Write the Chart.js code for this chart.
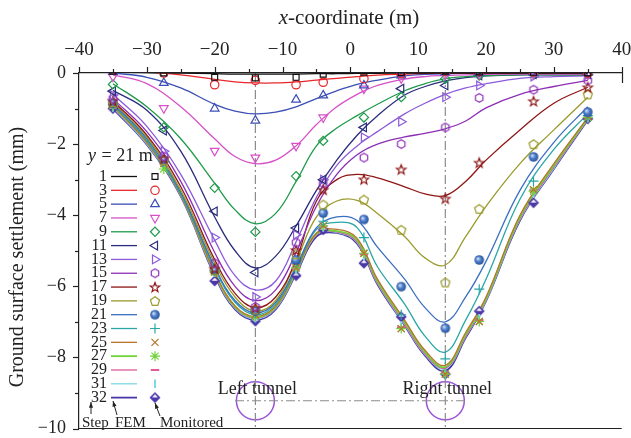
<!DOCTYPE html>
<html>
<head>
<meta charset="utf-8">
<script src="https://cdn.jsdelivr.net/npm/chart.js@4.4.1/dist/chart.umd.min.js"></script>
<style>
html, body { margin: 0; padding: 0; background: #fff; overflow: hidden; }
</style>
</head>
<body>
<canvas id="chart" width="631" height="438"></canvas>
<script>
// excavation steps shown in the legend
const steps = ['1', '3', '5', '7', '9', '11', '13', '15', '17', '19', '21', '23', '25', '27', '29', '31', '32'];

// FEM curves, x positions (m) and settlement (mm) per step
const femX = [-35, -30, -25, -20, -17, -14, -11, -8, -5, -2, 1, 4, 8, 11, 14, 17, 20, 25, 30, 35];
const fem1  = [0.02, 0.01, 0, -0.02, -0.03, -0.03, -0.03, -0.03, -0.02, -0.02, -0.01, -0.01, 0, 0, 0, 0, 0, 0, 0, 0];
const fem3  = [0.05, 0.03, -0.05, -0.18, -0.25, -0.28, -0.28, -0.25, -0.2, -0.15, -0.1, -0.06, -0.03, -0.01, 0, 0, 0, 0, 0, 0];
const fem5  = [0, -0.12, -0.42, -0.88, -1.07, -1.15, -1.1, -0.95, -0.72, -0.5, -0.32, -0.2, -0.08, -0.04, -0.02, -0.01, 0, 0, 0, 0];
const fem7  = [-0.05, -0.3, -0.95, -1.85, -2.35, -2.55, -2.45, -2.05, -1.45, -0.95, -0.6, -0.35, -0.17, -0.1, -0.07, -0.05, -0.04, -0.03, -0.03, -0.03];
const fem9  = [-0.3, -0.95, -1.85, -3.1, -3.85, -4.24, -3.95, -3.05, -2.05, -1.55, -1.2, -0.88, -0.5, -0.3, -0.16, -0.1, -0.07, -0.05, -0.05, -0.05];
const fem11 = [-0.49, -1.05, -2.2, -4.05, -5.0, -5.48, -5.15, -4.3, -3.3, -2.45, -1.75, -1.2, -0.62, -0.38, -0.22, -0.13, -0.08, -0.05, -0.05, -0.05];
const fem13 = [-0.6, -1.5, -2.85, -4.7, -5.7, -6.1, -5.85, -4.75, -3.5, -2.6, -2.05, -1.65, -1.15, -0.85, -0.6, -0.42, -0.3, -0.15, -0.1, -0.08];
const fem15 = [-0.72, -1.65, -3.05, -5.05, -6.0, -6.4, -6.1, -5.05, -3.75, -2.85, -2.3, -2.0, -1.8, -1.7, -1.57, -1.35, -0.98, -0.6, -0.38, -0.21];
const fem17 = [-0.78, -1.75, -3.2, -5.25, -6.2, -6.6, -6.3, -5.25, -3.6, -3.0, -2.85, -2.95, -3.2, -3.4, -3.45, -3.05, -2.45, -1.6, -0.85, -0.4];
const fem19 = [-0.82, -1.8, -3.3, -5.35, -6.3, -6.7, -6.4, -5.3, -4.05, -3.6, -3.58, -3.95, -4.6, -5.2, -5.4, -4.6, -3.75, -2.55, -1.6, -0.68];
const fem21 = [-0.85, -1.85, -3.35, -5.45, -6.4, -6.75, -6.45, -5.45, -4.35, -4.05, -4.15, -4.9, -5.8, -6.6, -7.0, -6.3, -5.3, -3.3, -1.95, -0.95];
const fem23 = [-0.88, -1.9, -3.4, -5.5, -6.45, -6.8, -6.5, -5.5, -4.4, -4.2, -4.35, -5.45, -6.5, -7.4, -7.85, -6.95, -5.8, -3.55, -2.15, -1.15];
const fem25 = [-0.9, -1.95, -3.42, -5.6, -6.55, -6.85, -6.55, -5.55, -4.5, -4.4, -4.65, -5.8, -6.95, -7.8, -8.22, -7.3, -6.3, -4.0, -2.55, -1.25];
const fem27 = [-0.92, -1.95, -3.42, -5.62, -6.57, -6.87, -6.57, -5.58, -4.52, -4.45, -4.7, -5.85, -7.0, -7.85, -8.27, -7.35, -6.35, -4.05, -2.6, -1.28];
const fem29 = [-0.95, -1.97, -3.44, -5.65, -6.6, -6.9, -6.6, -5.6, -4.55, -4.47, -4.75, -5.9, -7.05, -7.9, -8.3, -7.4, -6.38, -4.1, -2.65, -1.3];
const fem31 = [-0.97, -2.0, -3.45, -5.67, -6.62, -6.92, -6.62, -5.62, -4.55, -4.48, -4.77, -5.92, -7.08, -7.92, -8.32, -7.42, -6.4, -4.12, -2.68, -1.3];
const fem32 = [-1.0, -2.02, -3.47, -5.7, -6.65, -6.95, -6.65, -5.65, -4.6, -4.5, -4.8, -5.95, -7.1, -7.95, -8.38, -7.45, -6.42, -4.15, -2.7, -1.32];

// monitored points
const monX = [-35, -27.5, -20, -14, -8, -4, 2, 7.5, 14, 19, 27, 35];
const mon1  = [0.05, 0, -0.12, -0.14, -0.12, -0.03, 0.02, 0.01, 0.05, 0.03, 0.02, 0];
const mon3  = [0.08, 0, -0.33, -0.21, -0.33, -0.26, -0.16, -0.02, 0.05, 0.05, 0.03, 0];
const mon5  = [0.03, -0.28, -1.0, -1.34, -0.75, -0.63, -0.35, -0.07, 0.02, 0.02, 0, 0];
const mon7  = [-0.1, -0.99, -2.19, -2.38, -2.05, -1.25, -0.44, -0.15, -0.05, -0.03, -0.02, -0.05];
const mon9  = [-0.32, -1.53, -3.23, -4.47, -2.9, -1.91, -1.25, -0.68, -0.16, -0.07, -0.03, -0.03];
const mon11 = [-0.51, -1.62, -3.89, -5.61, -4.36, -3.0, -1.53, -0.44, -0.35, -0.07, -0.03, -0.03];
const mon13 = [-0.62, -2.2, -4.63, -6.3, -4.55, -3.0, -1.81, -1.37, -0.68, -0.35, -0.1, -0.05];
const mon15 = [-0.72, -2.35, -5.35, -6.58, -4.77, -3.1, -2.38, -2.0, -1.53, -0.7, -0.47, -0.21];
const mon17 = [-0.78, -2.4, -5.5, -6.6, -4.98, -3.28, -2.99, -2.71, -3.53, -2.52, -0.79, -0.4];
const mon19 = [-0.82, -2.45, -5.55, -6.65, -5.1, -3.7, -3.56, -4.41, -5.89, -3.82, -2.0, -0.6];
const mon21 = [-0.85, -2.45, -5.55, -6.7, -5.26, -3.94, -4.12, -6.01, -7.18, -5.26, -2.36, -1.1];
const mon23 = [-0.88, -2.5, -5.57, -6.75, -5.35, -4.17, -4.63, -6.8, -8.04, -6.08, -3.04, -1.2];
const mon25 = [-0.9, -2.55, -5.57, -6.8, -5.48, -4.3, -5.07, -7.19, -8.47, -6.99, -3.28, -1.22];
const mon27 = [-0.92, -2.7, -5.6, -6.85, -5.48, -4.3, -5.07, -7.19, -8.47, -6.99, -3.32, -1.25];
const mon29 = [-0.95, -2.55, -5.6, -6.88, -5.5, -4.32, -5.1, -7.15, -8.45, -6.95, -3.3, -1.25];
const mon31 = [-0.97, -2.55, -5.62, -6.9, -5.55, -4.35, -5.15, -7.1, -8.45, -6.9, -3.4, -1.27];
const mon32 = [-1.0, -2.47, -5.85, -6.98, -5.7, -4.41, -5.35, -6.86, -8.47, -6.7, -3.65, -1.29];

const femAll = [fem1, fem3, fem5, fem7, fem9, fem11, fem13, fem15, fem17, fem19, fem21, fem23, fem25, fem27, fem29, fem31, fem32];
const monAll = [mon1, mon3, mon5, mon7, mon9, mon11, mon13, mon15, mon17, mon19, mon21, mon23, mon25, mon27, mon29, mon31, mon32];

// tunnels
const tunnelX = [-14, 14];
const tunnelY = -9.22;
const tunnelLineX = [-17, 17.2];

const colors = ['#111111', '#e8262b', '#3b4fb5', '#d651c8', '#1e9b4a', '#2a2c7c', '#8d5bd9', '#8c2fb5',
  '#8e1616', '#9a9a2c', '#3b6fbf', '#2aa6a6', '#b8742c', '#6fd23a', '#e05a9a', '#80d7e6', '#4b38a8'];

const FONT = "'Liberation Serif', 'DejaVu Serif', serif";

function icon(draw) {
    const c = document.createElement('canvas');
    c.width = 14; c.height = 14;
    const g = c.getContext('2d');
    draw(g, 7, 7);
    return c;
}

function polygon(g, cx, cy, n, r, start) {
    g.beginPath();
    for (let i = 0; i < n; i++) {
        const a = start + i * 2 * Math.PI / n;
        const px = cx + r * Math.cos(a), py = cy + r * Math.sin(a);
        if (i === 0) g.moveTo(px, py); else g.lineTo(px, py);
    }
    g.closePath();
}

const hexIcon = icon((g, x, y) => {
    polygon(g, x, y, 6, 4.3, Math.PI / 2);
    g.strokeStyle = colors[7]; g.lineWidth = 1.2; g.stroke();
});
const starIcon = icon((g, x, y) => {
    g.beginPath();
    for (let i = 0; i < 10; i++) {
        const r = i % 2 ? 2.1 : 5;
        const a = -Math.PI / 2 + i * Math.PI / 5;
        const px = x + r * Math.cos(a), py = y + 0.5 + r * Math.sin(a);
        if (i === 0) g.moveTo(px, py); else g.lineTo(px, py);
    }
    g.closePath();
    g.strokeStyle = colors[8]; g.lineWidth = 1.2; g.stroke();
});
const pentIcon = icon((g, x, y) => {
    polygon(g, x, y + 0.5, 5, 4.8, -Math.PI / 2);
    g.strokeStyle = colors[9]; g.lineWidth = 1.2; g.stroke();
});
const ballIcon = icon((g, x, y) => {
    const grad = g.createRadialGradient(x - 1.5, y - 1.5, 0.5, x, y, 5);
    grad.addColorStop(0, '#c9dbf5');
    grad.addColorStop(0.45, '#4f7fcc');
    grad.addColorStop(1, '#254f98');
    g.beginPath(); g.arc(x, y, 4.8, 0, 2 * Math.PI);
    g.fillStyle = grad; g.fill();
});
const halfDiamondIcon = icon((g, x, y) => {
    g.beginPath();
    g.moveTo(x, y - 5.5); g.lineTo(x + 5.5, y); g.lineTo(x, y + 5.5); g.lineTo(x - 5.5, y); g.closePath();
    g.fillStyle = colors[16]; g.fill();
    g.beginPath();
    g.moveTo(x, y - 3.2); g.lineTo(x + 3, y - 0.3); g.lineTo(x - 3, y - 0.3); g.closePath();
    g.fillStyle = '#ffffff'; g.fill();
});

// marker styles per step: [pointStyle, radius, rotation]
const markers = [
    ['rect', 4.2, 0], ['circle', 4.2, 0], ['triangle', 5, 0], ['triangle', 5, 180],
    ['rectRot', 4.6, 0], ['triangle', 5, 270], ['triangle', 5, 90], [hexIcon, 5, 0],
    [starIcon, 5, 0], [pentIcon, 5, 0], [ballIcon, 5, 0], ['cross', 5, 0],
    ['crossRot', 5, 0], ['star', 5, 0], ['line', 4.2, 0], ['line', 4.2, 90], [halfDiamondIcon, 5, 0]
];

const datasets = [];
steps.forEach((s, i) => {
    datasets.push({
        type: 'line',
        label: 'FEM ' + s,
        data: femX.map((x, j) => ({ x: x, y: femAll[i][j] })),
        borderColor: colors[i],
        borderWidth: (i === 13 || i === 16) ? 1.8 : 1.3,
        pointRadius: 0,
        tension: 0.4,
        fill: false,
        order: 2
    });
    const m = markers[i];
    datasets.push({
        type: 'scatter',
        label: 'Monitored ' + s,
        data: monX.map((x, j) => ({ x: x, y: monAll[i][j] })),
        showLine: false,
        pointStyle: m[0],
        pointRadius: m[1],
        pointRotation: m[2],
        borderColor: colors[i],
        backgroundColor: 'rgba(0,0,0,0)',
        borderWidth: (i === 14 || i === 15) ? 2 : 1.2,
        order: 1
    });
});

// tunnel annotations
const dashGray = { borderColor: '#8c8c8c', borderWidth: 1.2, borderDash: [9, 3, 2, 3], pointRadius: 0, fill: false, order: 3 };
tunnelX.forEach(tx => {
    datasets.push(Object.assign({ type: 'line', data: [{ x: tx, y: 0 }, { x: tx, y: -10 }] }, dashGray));
});
datasets.push(Object.assign({ type: 'line', data: tunnelLineX.map(x => ({ x: x, y: tunnelY })) }, dashGray));
datasets.push({
    type: 'scatter',
    data: tunnelX.map(x => ({ x: x, y: tunnelY })),
    pointRadius: 19,
    pointStyle: 'circle',
    borderColor: '#9b55d6',
    borderWidth: 1.5,
    backgroundColor: 'rgba(0,0,0,0)',
    order: 3
});

const minus = v => v < 0 ? '\u2212' + Math.abs(v) : String(v);

const decorations = {
    id: 'decorations',
    afterDraw(chart) {
        const ctx = chart.ctx;
        const xs = chart.scales.x, ys = chart.scales.y;
        const area = chart.chartArea;
        ctx.save();
        ctx.strokeStyle = '#222';
        ctx.fillStyle = '#222';
        ctx.lineWidth = 1.2;

        // tick marks (outward), minor every 5 m / 1 mm
        for (let v = -40; v <= 40; v += 5) {
            const px = Math.round(xs.getPixelForValue(v)) + 0.5;
            const len = v % 10 === 0 ? 6 : 4;
            const below = v === 40 ? 10 : 0;
            ctx.beginPath(); ctx.moveTo(px, area.top + below); ctx.lineTo(px, area.top - len); ctx.stroke();
        }
        for (let v = 0; v >= -10; v -= 1) {
            const py = Math.round(ys.getPixelForValue(v)) + 0.5;
            const len = v % 2 === 0 ? 6 : 4;
            ctx.beginPath(); ctx.moveTo(area.left, py); ctx.lineTo(area.left - len, py); ctx.stroke();
        }
        // bottom frame line
        ctx.beginPath(); ctx.moveTo(area.left, area.bottom); ctx.lineTo(area.right, area.bottom); ctx.stroke();

        // axis titles
        ctx.textBaseline = 'middle';
        ctx.font = 'italic 21px ' + FONT;
        const t1 = 'x', t2 = '-coordinate (m)';
        const w1 = ctx.measureText(t1).width;
        ctx.font = '21px ' + FONT;
        const w2 = ctx.measureText(t2).width;
        let tx = 349 - (w1 + w2) / 2;
        ctx.textAlign = 'left';
        ctx.font = 'italic 21px ' + FONT;
        ctx.fillText(t1, tx, 18);
        ctx.font = '21px ' + FONT;
        ctx.fillText(t2, tx + w1, 18);

        ctx.save();
        ctx.translate(18, 257);
        ctx.rotate(-Math.PI / 2);
        ctx.textAlign = 'center';
        ctx.font = '20px ' + FONT;
        ctx.fillText('Ground surface settlement (mm)', 0, 0);
        ctx.restore();

        // tunnel labels
        ctx.textAlign = 'center';
        ctx.font = '18px ' + FONT;
        ctx.fillText('Left tunnel', xs.getPixelForValue(tunnelX[0]) + 2, 389);
        ctx.fillText('Right tunnel', xs.getPixelForValue(tunnelX[1]) + 2, 389);

        // legend
        ctx.textAlign = 'left';
        ctx.font = 'italic 18px ' + FONT;
        ctx.fillText('y', 88, 156);
        ctx.font = '18px ' + FONT;
        ctx.fillText(' = 21 m', 88 + ctx.measureText('y').width, 156);
        ctx.font = '16px ' + FONT;
        steps.forEach((s, i) => {
            const y = 176.5 + i * 13.82;
            ctx.fillStyle = '#222';
            ctx.textAlign = 'right';
            ctx.fillText(s, 107, y);
            ctx.strokeStyle = colors[i];
            ctx.lineWidth = (i === 13 || i === 16) ? 1.8 : 1.3;
            ctx.beginPath(); ctx.moveTo(111, y); ctx.lineTo(137, y); ctx.stroke();
            const m = markers[i];
            ctx.lineWidth = (i === 14 || i === 15) ? 2 : 1.2;
            ctx.fillStyle = 'rgba(0,0,0,0)';
            Chart.helpers.drawPoint(ctx, { pointStyle: m[0], radius: m[1], rotation: m[2], borderWidth: 1 }, 155, y);
        });

        // Step / FEM / Monitored captions with arrows
        ctx.fillStyle = '#222';
        ctx.strokeStyle = '#222';
        ctx.lineWidth = 1;
        ctx.textAlign = 'left';
        ctx.font = '15px ' + FONT;
        ctx.fillText('Step', 82, 423);
        ctx.fillText('FEM', 115, 423);
        ctx.fillText('Monitored', 160, 423);
        const arrow = (x1, y1, x2, y2) => {
            ctx.beginPath(); ctx.moveTo(x1, y1); ctx.lineTo(x2, y2); ctx.stroke();
            const a = Math.atan2(y2 - y1, x2 - x1);
            ctx.beginPath();
            ctx.moveTo(x2, y2);
            ctx.lineTo(x2 - 6 * Math.cos(a - 0.35), y2 - 6 * Math.sin(a - 0.35));
            ctx.lineTo(x2 - 6 * Math.cos(a + 0.35), y2 - 6 * Math.sin(a + 0.35));
            ctx.closePath(); ctx.fill();
        };
        arrow(91, 414, 91, 402);
        arrow(117, 415, 113, 401);
        arrow(160, 416, 155, 403);
        ctx.restore();
    }
};

new Chart(document.getElementById('chart'), {
    data: { datasets: datasets },
    options: {
        responsive: false,
        animation: false,
        devicePixelRatio: 1,
        layout: { autoPadding: false, padding: { left: 0, right: 9.3, top: 0, bottom: 9.5 } },
        plugins: { legend: { display: false }, tooltip: { enabled: false } },
        scales: {
            x: {
                type: 'linear',
                position: 'top',
                min: -40,
                max: 40,
                afterFit: s => { s.height = 73; s.paddingLeft = 0; s.paddingRight = 0; },
                ticks: { stepSize: 10, callback: minus, color: '#222', font: { family: FONT, size: 19 }, padding: 12, maxRotation: 0 },
                grid: { drawOnChartArea: false, drawTicks: false, color: 'rgba(0,0,0,0)' },
                border: { color: '#222', width: 1.2 }
            },
            y: {
                type: 'linear',
                min: -10,
                max: 0,
                afterFit: s => { s.width = 79; s.paddingTop = 0; s.paddingBottom = 0; },
                ticks: { stepSize: 2, callback: minus, color: '#222', font: { family: FONT, size: 18 }, padding: 13 },
                grid: { drawOnChartArea: false, drawTicks: false, color: 'rgba(0,0,0,0)' },
                border: { color: '#222', width: 1.2 }
            }
        }
    },
    plugins: [decorations]
});
</script>
</body>
</html>
